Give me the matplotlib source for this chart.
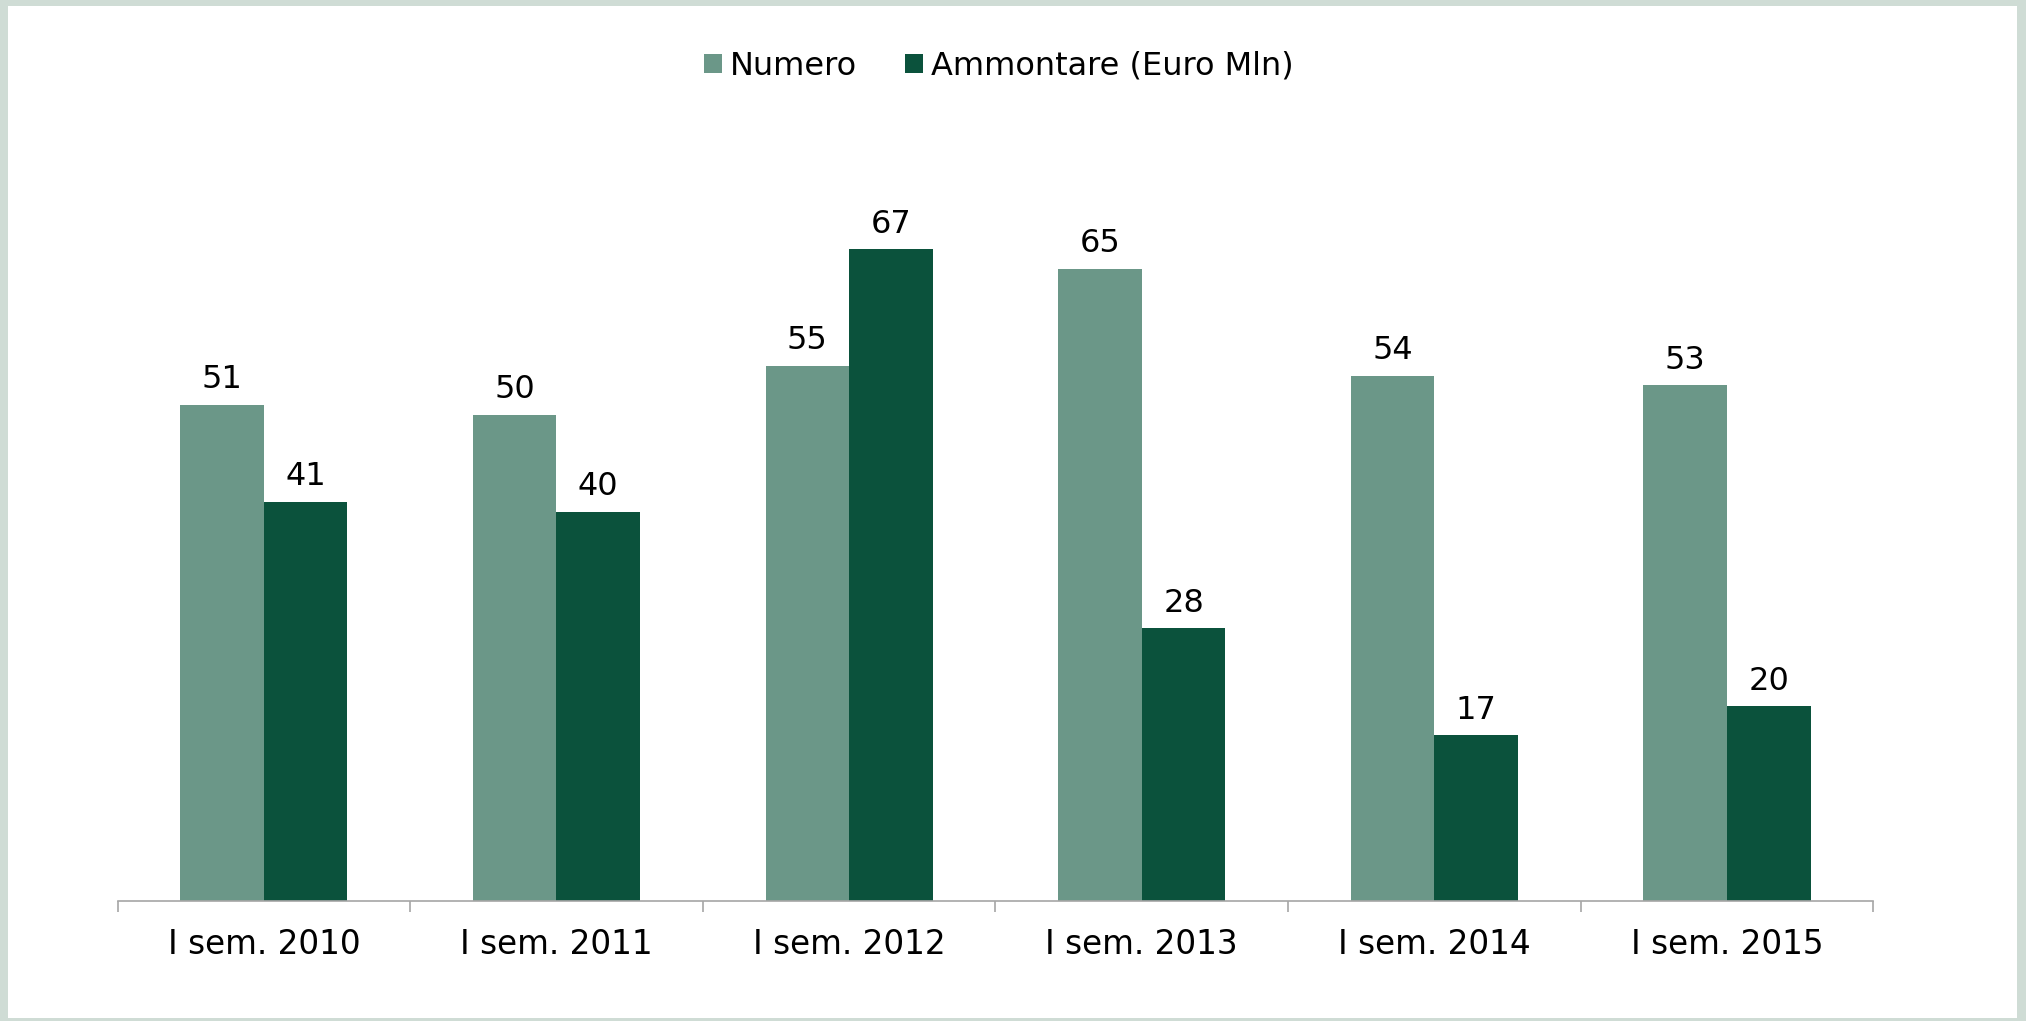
import numpy as np
import matplotlib.pyplot as plt
from matplotlib.patches import Rectangle

# data
categories = ['I sem. 2010', 'I sem. 2011', 'I sem. 2012', 'I sem. 2013', 'I sem. 2014', 'I sem. 2015']
numero = [51, 50, 55, 65, 54, 53]
ammontare = [41, 40, 67, 28, 17, 20]

light = '#6b9788'
dark = '#0b523c'

fig = plt.figure(figsize=(20.26, 10.21), dpi=100)
fig.patch.set_facecolor('#cfdcd5')
# white panel inside the pale frame
fig.add_artist(Rectangle((8 / 2026, 3 / 1021), 2009 / 2026, 1012 / 1021,
                         transform=fig.transFigure, facecolor='white',
                         edgecolor='none', zorder=0))

ax = fig.add_axes([0.058, 0.1179, 0.8667, 0.7616])
ax.set_facecolor('none')

x = np.arange(len(categories))
w = 1 / 3.5
b1 = ax.bar(x - w / 2, numero, w, color=light, label='Numero')
b2 = ax.bar(x + w / 2, ammontare, w, color=dark, label='Ammontare (Euro Mln)')

for bars, vals in [(b1, numero), (b2, ammontare)]:
    for r, v in zip(bars, vals):
        ax.annotate(str(v), (r.get_x() + r.get_width() / 2, v),
                    xytext=(0, 12), textcoords='offset points',
                    ha='center', va='baseline', fontsize=23)

ax.set_xlim(-0.5, len(categories) - 0.5)
ax.set_ylim(0, 80)
ax.set_yticks([])
for s in ['left', 'right', 'top']:
    ax.spines[s].set_visible(False)
ax.spines['bottom'].set_color('#a6a6a6')
ax.spines['bottom'].set_linewidth(1.2)

ax.set_xticks(np.arange(-0.5, len(categories), 1.0))
ax.set_xticklabels([])
ax.tick_params(axis='x', which='major', length=8, width=1.2, color='#a6a6a6', direction='out')
ax.set_xticks(x, minor=True)
ax.set_xticklabels(categories, minor=True, fontsize=23.5)
ax.tick_params(axis='x', which='minor', length=0, pad=20)

leg = fig.legend(loc='center', bbox_to_anchor=(0.493, 0.935), ncol=2, frameon=False,
                 fontsize=23, handlelength=0.55, handleheight=0.55,
                 handletextpad=0.25, columnspacing=1.5)

fig.savefig('out.png', dpi=100, facecolor=fig.get_facecolor())
